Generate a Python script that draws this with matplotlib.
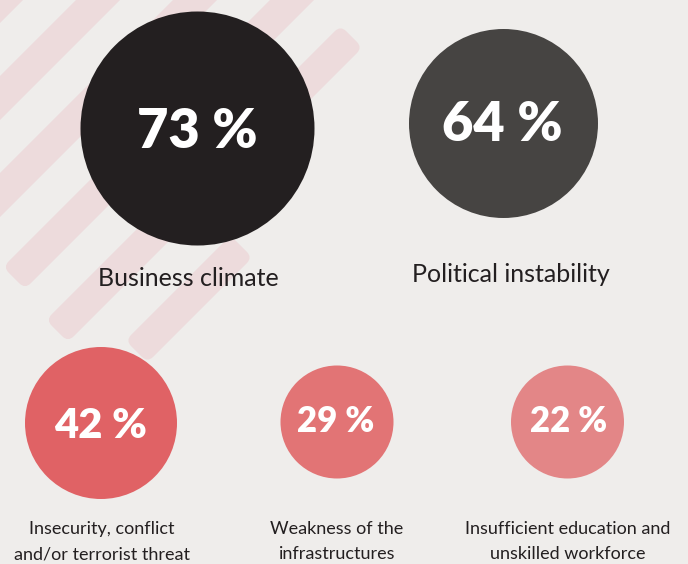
import matplotlib
matplotlib.use("Agg")
import matplotlib.pyplot as plt
from matplotlib.patches import Circle, FancyBboxPatch
from matplotlib.transforms import Affine2D

# ---- data ----
values = [73, 64, 42, 29, 22]
labels = [["Business climate"], ["Political instability"],
          ["Insecurity, conflict", "and/or terrorist threat"],
          ["Weakness of the", "infrastructures"],
          ["Insufficient education and", "unskilled workforce"]]
colors = ["#231f20", "#464442", "#e06265", "#e27475", "#e38687"]

# ---- layout (pixel coordinates) ----
centers = [(197.5, 128.5), (503.5, 123.5), (101, 423), (337, 422), (567.5, 422)]
radii = [117, 94.5, 76, 56.5, 56.5]
num_base = [148, 141, 438, 432, 432]
num_x = [197.5, 502, 100, 336, 569]
num_size = [39, 39, 30, 25, 25]
lab_pos = [(188.5, 286), (511, 282), (102, 534), (337, 534), (567.5, 534)]
lab_size = [18, 18, 13, 13, 13]
line_gap = 25

# stripes: (x+y centre, t start, t end) where t = x - y
stripes = [(1, -500, 500), (98, -500, 500), (195, -500, 500),
           (292, -264, 500), (388, -274, 315), (488, -215, -5)]
stripe_w = 44  # width measured along x+y

W, H = 688, 564
fig = plt.figure(figsize=(W / 100, H / 100), dpi=100)
fig.patch.set_facecolor("#efedeb")
ax = fig.add_axes([0, 0, 1, 1])
ax.set_xlim(0, W)
ax.set_ylim(H, 0)
ax.axis("off")
ax.set_facecolor("#efedeb")

s2 = 2 ** 0.5
rot = Affine2D().rotate_deg(-45) + ax.transData
for c, t0, t1 in stripes:
    u0, u1 = t0 / s2, t1 / s2
    v0 = (c - stripe_w / 2) / s2
    h = stripe_w / s2
    p = FancyBboxPatch((u0, v0), u1 - u0, h,
                       boxstyle="round,pad=0,rounding_size=8",
                       facecolor="#eddbdc", edgecolor="none",
                       transform=rot, zorder=1)
    ax.add_patch(p)

for (cx, cy), r, col in zip(centers, radii, colors):
    ax.add_patch(Circle((cx, cy), r, facecolor=col, edgecolor="none", zorder=2))

for v, x, yb, fs in zip(values, num_x, num_base, num_size):
    ax.text(x, yb, f"{v} %", ha="center", va="baseline", color="white",
            fontsize=fs, fontweight="heavy", family=["Lato", "DejaVu Sans"], zorder=3)

for lines, (x, yb), fs in zip(labels, lab_pos, lab_size):
    for i, ln in enumerate(lines):
        ax.text(x, yb + i * line_gap, ln, ha="center", va="baseline", color="#231f20",
                fontsize=fs, fontweight="normal", family=["Lato", "DejaVu Sans"], zorder=3)

fig.savefig("out.png", dpi=100, facecolor=fig.get_facecolor())
